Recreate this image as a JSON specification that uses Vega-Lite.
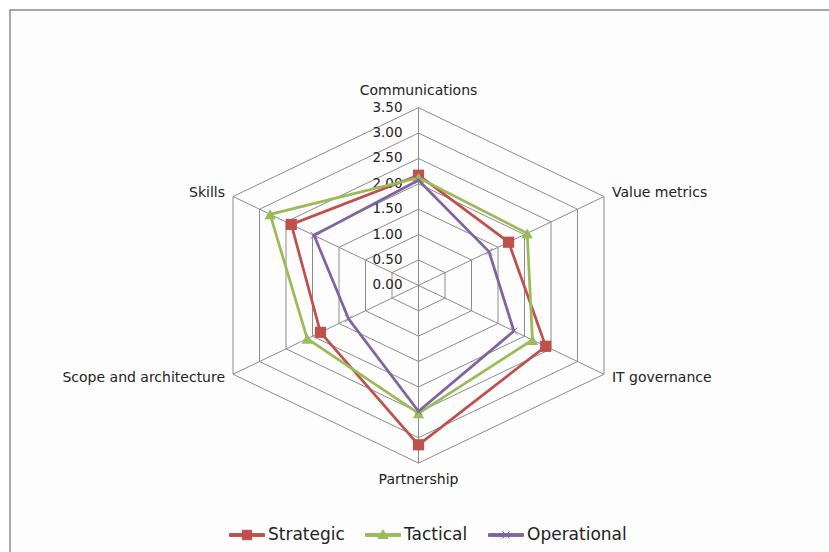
{
  "$schema": "https://vega.github.io/schema/vega-lite/v6.json",
  "width": 830,
  "height": 560,
  "autosize": {"type": "none"},
  "padding": {"left": 10, "top": 10, "right": 0, "bottom": 0},
  "background": "#ffffff",
  "config": {"view": {"stroke": "#8a8a8a", "strokeWidth": 1.5, "fill": "#fdfdfd"}},
  "datasets": {
    "scores": [
      {"axis": "Communications", "series": "Strategic", "score": 2.17},
      {"axis": "Value metrics", "series": "Strategic", "score": 1.70},
      {"axis": "IT governance", "series": "Strategic", "score": 2.40},
      {"axis": "Partnership", "series": "Strategic", "score": 3.14},
      {"axis": "Scope and architecture", "series": "Strategic", "score": 1.85},
      {"axis": "Skills", "series": "Strategic", "score": 2.40},
      {"axis": "Communications", "series": "Tactical", "score": 2.12},
      {"axis": "Value metrics", "series": "Tactical", "score": 2.05},
      {"axis": "IT governance", "series": "Tactical", "score": 2.15},
      {"axis": "Partnership", "series": "Tactical", "score": 2.52},
      {"axis": "Scope and architecture", "series": "Tactical", "score": 2.10},
      {"axis": "Skills", "series": "Tactical", "score": 2.80},
      {"axis": "Communications", "series": "Operational", "score": 2.07},
      {"axis": "Value metrics", "series": "Operational", "score": 1.33},
      {"axis": "IT governance", "series": "Operational", "score": 1.80},
      {"axis": "Partnership", "series": "Operational", "score": 2.48},
      {"axis": "Scope and architecture", "series": "Operational", "score": 1.32},
      {"axis": "Skills", "series": "Operational", "score": 1.97}
    ],
    "grid": [
      {"level": 0.5, "axis": ["Communications", "Value metrics", "IT governance", "Partnership", "Scope and architecture", "Skills"]},
      {"level": 1.0, "axis": ["Communications", "Value metrics", "IT governance", "Partnership", "Scope and architecture", "Skills"]},
      {"level": 1.5, "axis": ["Communications", "Value metrics", "IT governance", "Partnership", "Scope and architecture", "Skills"]},
      {"level": 2.0, "axis": ["Communications", "Value metrics", "IT governance", "Partnership", "Scope and architecture", "Skills"]},
      {"level": 2.5, "axis": ["Communications", "Value metrics", "IT governance", "Partnership", "Scope and architecture", "Skills"]},
      {"level": 3.0, "axis": ["Communications", "Value metrics", "IT governance", "Partnership", "Scope and architecture", "Skills"]},
      {"level": 3.5, "axis": ["Communications", "Value metrics", "IT governance", "Partnership", "Scope and architecture", "Skills"]}
    ],
    "axes": [
      {"axis": "Communications", "level": 3.5},
      {"axis": "Value metrics", "level": 3.5},
      {"axis": "IT governance", "level": 3.5},
      {"axis": "Partnership", "level": 3.5},
      {"axis": "Scope and architecture", "level": 3.5},
      {"axis": "Skills", "level": 3.5}
    ],
    "ticks": [
      {"level": 0.0}, {"level": 0.5}, {"level": 1.0}, {"level": 1.5},
      {"level": 2.0}, {"level": 2.5}, {"level": 3.0}, {"level": 3.5}
    ]
  },
  "encoding": {
    "x": {"field": "px", "type": "quantitative", "scale": {"domain": [-6.675, 6.887], "nice": false, "zero": false}, "axis": null},
    "y": {"field": "py", "type": "quantitative", "scale": {"domain": [-5.606, 5.424], "nice": false, "zero": false}, "axis": null}
  },
  "layer": [
    {
      "data": {"name": "grid"},
      "transform": [
        {"flatten": ["axis"]},
        {"calculate": "indexof(['Communications','Value metrics','IT governance','Partnership','Scope and architecture','Skills'], datum.axis)", "as": "idx"},
        {"calculate": "datum.level * sin(datum.idx * PI / 3)", "as": "px"},
        {"calculate": "datum.level * cos(datum.idx * PI / 3)", "as": "py"}
      ],
      "mark": {"type": "line", "interpolate": "linear-closed", "color": "#8c8c8c", "strokeWidth": 1},
      "encoding": {"detail": {"field": "level"}, "order": {"field": "idx", "type": "quantitative"}}
    },
    {
      "data": {"name": "axes"},
      "transform": [
        {"calculate": "indexof(['Communications','Value metrics','IT governance','Partnership','Scope and architecture','Skills'], datum.axis)", "as": "idx"},
        {"calculate": "datum.level * sin(datum.idx * PI / 3)", "as": "px"},
        {"calculate": "datum.level * cos(datum.idx * PI / 3)", "as": "py"}
      ],
      "mark": {"type": "rule", "color": "#8c8c8c", "strokeWidth": 1},
      "encoding": {"x2": {"datum": 0}, "y2": {"datum": 0}}
    },
    {
      "data": {"name": "ticks"},
      "transform": [
        {"calculate": "0", "as": "px"},
        {"calculate": "datum.level", "as": "py"}
      ],
      "mark": {"type": "text", "align": "right", "baseline": "middle", "dx": -16, "font": "DejaVu Sans", "fontSize": 13.5, "color": "#222222"},
      "encoding": {"text": {"field": "level", "type": "quantitative", "format": ".2f"}}
    },
    {
      "data": {"name": "axes"},
      "transform": [
        {"calculate": "indexof(['Communications','Value metrics','IT governance','Partnership','Scope and architecture','Skills'], datum.axis)", "as": "idx"},
        {"filter": "datum.idx == 0"},
        {"calculate": "3.65 * sin(datum.idx * PI / 3)", "as": "px"},
        {"calculate": "3.65 * cos(datum.idx * PI / 3)", "as": "py"}
      ],
      "mark": {"type": "text", "align": "center", "baseline": "bottom", "dy": -2, "font": "DejaVu Sans", "fontSize": 14, "color": "#222222"},
      "encoding": {"text": {"field": "axis"}}
    },
    {
      "data": {"name": "axes"},
      "transform": [
        {"calculate": "indexof(['Communications','Value metrics','IT governance','Partnership','Scope and architecture','Skills'], datum.axis)", "as": "idx"},
        {"filter": "datum.idx == 3"},
        {"calculate": "3.65 * sin(datum.idx * PI / 3)", "as": "px"},
        {"calculate": "3.65 * cos(datum.idx * PI / 3)", "as": "py"}
      ],
      "mark": {"type": "text", "align": "center", "baseline": "top", "dy": 2, "font": "DejaVu Sans", "fontSize": 14, "color": "#222222"},
      "encoding": {"text": {"field": "axis"}}
    },
    {
      "data": {"name": "axes"},
      "transform": [
        {"calculate": "indexof(['Communications','Value metrics','IT governance','Partnership','Scope and architecture','Skills'], datum.axis)", "as": "idx"},
        {"filter": "datum.idx == 1 || datum.idx == 2"},
        {"calculate": "3.65 * sin(datum.idx * PI / 3)", "as": "px"},
        {"calculate": "3.65 * cos(datum.idx * PI / 3)", "as": "py"}
      ],
      "mark": {"type": "text", "align": "left", "baseline": "middle", "font": "DejaVu Sans", "fontSize": 14, "color": "#222222"},
      "encoding": {"text": {"field": "axis"}}
    },
    {
      "data": {"name": "axes"},
      "transform": [
        {"calculate": "indexof(['Communications','Value metrics','IT governance','Partnership','Scope and architecture','Skills'], datum.axis)", "as": "idx"},
        {"filter": "datum.idx == 4 || datum.idx == 5"},
        {"calculate": "3.65 * sin(datum.idx * PI / 3)", "as": "px"},
        {"calculate": "3.65 * cos(datum.idx * PI / 3)", "as": "py"}
      ],
      "mark": {"type": "text", "align": "right", "baseline": "middle", "font": "DejaVu Sans", "fontSize": 14, "color": "#222222"},
      "encoding": {"text": {"field": "axis"}}
    },
    {
      "data": {"name": "scores"},
      "transform": [
        {"filter": "datum.series == 'Strategic'"},
        {"calculate": "indexof(['Communications','Value metrics','IT governance','Partnership','Scope and architecture','Skills'], datum.axis)", "as": "idx"},
        {"calculate": "datum.score * sin(datum.idx * PI / 3)", "as": "px"},
        {"calculate": "datum.score * cos(datum.idx * PI / 3)", "as": "py"}
      ],
      "layer": [
        {
          "mark": {"type": "line", "interpolate": "linear-closed", "strokeWidth": 2.75},
          "encoding": {
            "order": {"field": "idx", "type": "quantitative"},
            "color": {
              "field": "series", "type": "nominal",
              "scale": {"domain": ["Strategic", "Tactical", "Operational"], "range": ["#c0504d", "#9bbb59", "#8064a2"]},
              "legend": {
                "title": null, "orient": "none", "direction": "horizontal",
                "legendX": 219, "legendY": 507, "padding": 0,
                "symbolSize": 1225, "columnPadding": 18, "labelOffset": 3,
                "labelFont": "DejaVu Sans", "labelFontSize": 17, "labelColor": "#222222",
                "encode": {
                  "symbols": {
                    "update": {
                      "shape": {"signal": "datum.value == 'Strategic' ? 'M-1,-0.08H1V0.08H-1Z M-0.27,-0.27H0.27V0.27H-0.27Z' : datum.value == 'Tactical' ? 'M-1,-0.08H1V0.08H-1Z M0,-0.3L0.29,0.2H-0.29Z' : 'M-1,-0.08H1V0.08H-1Z M-0.2,-0.2L0.2,0.2M-0.2,0.2L0.2,-0.2'"},
                      "fill": {"signal": "scale('color', datum.value)"},
                      "stroke": {"signal": "scale('color', datum.value)"},
                      "strokeWidth": {"value": 1},
                      "opacity": {"value": 1}
                    }
                  }
                }
              }
            }
          }
        },
        {
          "mark": {"type": "point", "shape": "square", "filled": true, "size": 125, "color": "#c0504d", "opacity": 1}
        }
      ]
    },
    {
      "data": {"name": "scores"},
      "transform": [
        {"filter": "datum.series == 'Tactical'"},
        {"calculate": "indexof(['Communications','Value metrics','IT governance','Partnership','Scope and architecture','Skills'], datum.axis)", "as": "idx"},
        {"calculate": "datum.score * sin(datum.idx * PI / 3)", "as": "px"},
        {"calculate": "datum.score * cos(datum.idx * PI / 3)", "as": "py"}
      ],
      "layer": [
        {
          "mark": {"type": "line", "interpolate": "linear-closed", "strokeWidth": 2.75},
          "encoding": {
            "order": {"field": "idx", "type": "quantitative"},
            "color": {"field": "series", "type": "nominal"}
          }
        },
        {
          "mark": {"type": "point", "shape": "triangle-up", "filled": true, "size": 130, "color": "#9bbb59", "opacity": 1}
        }
      ]
    },
    {
      "data": {"name": "scores"},
      "transform": [
        {"filter": "datum.series == 'Operational'"},
        {"calculate": "indexof(['Communications','Value metrics','IT governance','Partnership','Scope and architecture','Skills'], datum.axis)", "as": "idx"},
        {"calculate": "datum.score * sin(datum.idx * PI / 3)", "as": "px"},
        {"calculate": "datum.score * cos(datum.idx * PI / 3)", "as": "py"}
      ],
      "layer": [
        {
          "mark": {"type": "line", "interpolate": "linear-closed", "strokeWidth": 2.75},
          "encoding": {
            "order": {"field": "idx", "type": "quantitative"},
            "color": {"field": "series", "type": "nominal"}
          }
        },
        {
          "mark": {"type": "point", "shape": "M-1,-1L1,1M-1,1L1,-1", "filled": false, "size": 49, "strokeWidth": 1, "color": "#8064a2", "opacity": 0.8}
        }
      ]
    }
  ]
}
